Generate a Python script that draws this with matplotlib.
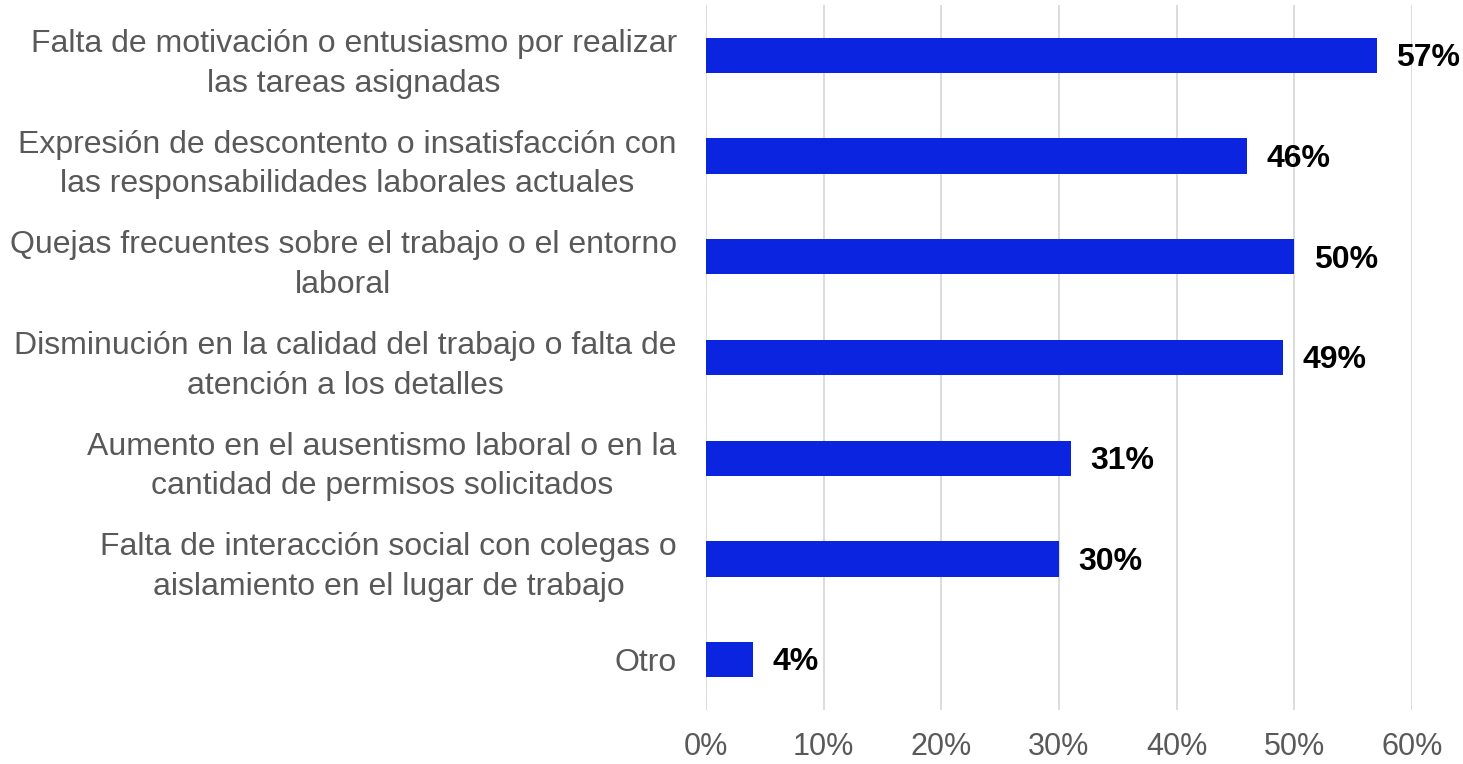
import matplotlib
matplotlib.use("Agg")
import matplotlib.pyplot as plt

categories = [
    "Falta de motivación o entusiasmo por realizar\nlas tareas asignadas",
    "Expresión de descontento o insatisfacción con\nlas responsabilidades laborales actuales",
    "Quejas frecuentes sobre el trabajo o el entorno\nlaboral",
    "Disminución en la calidad del trabajo o falta de\natención a los detalles",
    "Aumento en el ausentismo laboral o en la\ncantidad de permisos solicitados",
    "Falta de interacción social con colegas o\naislamiento en el lugar de trabajo",
    "Otro",
]
values = [57, 46, 50, 49, 31, 30, 4]
ticks = [0, 10, 20, 30, 40, 50, 60]
tick_labels = [f"{t}%" for t in ticks]

plt.rcParams["font.family"] = ["Liberation Sans", "DejaVu Sans"]

fig = plt.figure(figsize=(14.63, 7.64), dpi=100)
ax = fig.add_axes([706 / 1463, 1 - 710 / 764, (1412 - 706) / 1463, 705 / 764])

y = list(range(len(categories)))
ax.barh(y, values, height=0.35, color="#0A24E0", zorder=3)
for yi, v in zip(y, values):
    ax.annotate(f"{v}%", (v, yi), xytext=(14, -2), textcoords="offset points",
                va="center", ha="left", fontsize=23, fontweight="bold", color="black")

ax.set_xlim(0, 60)
ax.set_ylim(len(categories) - 0.5, -0.5)
ax.set_xticks(ticks)
ax.set_xticklabels(tick_labels)
ax.set_yticks(y)
ax.set_yticklabels(categories, multialignment="center", linespacing=1.42)
ax.tick_params(axis="x", length=0, pad=16, labelsize=22, labelcolor="#595959")
ax.tick_params(axis="y", length=0, pad=21, labelsize=23, labelcolor="#595959")
ax.grid(axis="x", color="#d9d9d9", linewidth=1.3, zorder=0)
for s in ax.spines.values():
    s.set_visible(False)

fig.savefig("out.png", dpi=100)
